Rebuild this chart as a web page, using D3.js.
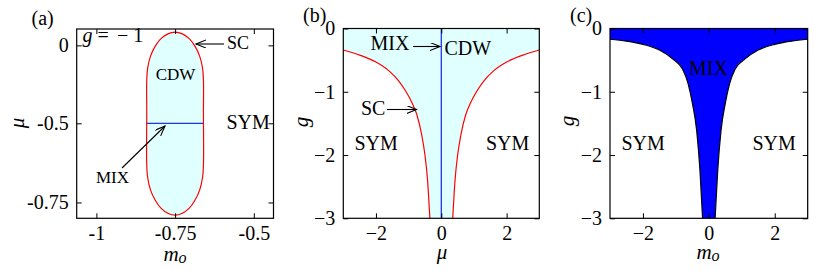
<!DOCTYPE html>
<html>
<head>
<meta charset="utf-8">
<script src="https://cdn.jsdelivr.net/npm/d3@7"></script>
<style>
  body { margin: 0; background: #fff; }
  svg text { font-family: "Liberation Serif", "Times New Roman", serif; fill: #000; }
</style>
</head>
<body>
<div id="container"></div>
<script>
/* DATA */
// (a) g = -1 : SC boundary loop in the (m_o, mu) plane
const scLoopM = [-0.750, -0.727, -0.705, -0.687, -0.672, -0.663, -0.660, -0.660, -0.660,
  -0.663, -0.672, -0.687, -0.705, -0.727, -0.750, -0.773, -0.795, -0.813, -0.828, -0.837,
  -0.840, -0.840, -0.840, -0.837, -0.828, -0.813, -0.795, -0.773];
const scLoopMu = [0.085, 0.074, 0.043, -0.005, -0.069, -0.144, -0.224, -0.430, -0.632,
  -0.672, -0.711, -0.743, -0.768, -0.784, -0.790, -0.784, -0.768, -0.743, -0.711, -0.672,
  -0.632, -0.430, -0.224, -0.144, -0.069, -0.005, 0.043, 0.074];
const mixSegM = [-0.840, -0.660];
const mixSegMu = [-0.5, -0.5];
const aTicksX = [-1, -0.75, -0.5];
const aTicksY = [0, -0.5, -0.75];

// (b) SC boundary g(mu)
const scLeftMu = [-3, -2.5, -2, -1.6, -1.3, -1.1, -0.9, -0.75, -0.6, -0.5, -0.42, -0.35];
const scLeftG = [-0.34, -0.42, -0.53, -0.67, -0.83, -0.98, -1.17, -1.36, -1.68, -2.0, -2.4, -3.0];
const scRightMu = [0.35, 0.42, 0.5, 0.6, 0.75, 0.9, 1.1, 1.3, 1.6, 2, 2.5, 3];
const scRightG = [-3.0, -2.4, -2.0, -1.68, -1.36, -1.17, -0.98, -0.83, -0.67, -0.53, -0.42, -0.34];
const cdwLineMu = [0, 0];
const cdwLineG = [0, -3];

// (c) MIX boundary g(m_o)
const mixLeftM = [-3, -2.5, -2, -1.5, -1.1, -0.8, -0.63, -0.5, -0.37, -0.27, -0.19];
const mixLeftG = [-0.17, -0.2, -0.25, -0.34, -0.48, -0.64, -0.87, -1.18, -1.61, -2.24, -3.0];
const mixRightM = [0.19, 0.27, 0.37, 0.5, 0.63, 0.8, 1.1, 1.5, 2, 2.5, 3];
const mixRightG = [-3.0, -2.24, -1.61, -1.18, -0.87, -0.64, -0.48, -0.34, -0.25, -0.2, -0.17];

const gTicks = [0, -1, -2, -3];
const bcTicksX = [-2, 0, 2];

/* CONSTANTS */
const width = 814, height = 271;
const top0 = 28.5, bottom0 = 218.3;
const serif = '"Liberation Serif", "Times New Roman", serif';
const cyan = "#e0ffff", red = "#ff0000", blue = "#0000ff", lineBlue = "#2233ee";

const svg = d3.select("#container").append("svg")
  .attr("width", width)
  .attr("height", height);

const defs = svg.append("defs");
defs.append("marker")
  .attr("id", "arrow")
  .attr("markerUnits", "userSpaceOnUse")
  .attr("markerWidth", 12).attr("markerHeight", 10)
  .attr("refX", 10).attr("refY", 4)
  .attr("orient", "auto")
  .append("path")
  .attr("d", "M0,0 L10,4 L0,8")
  .attr("fill", "none")
  .attr("stroke", "#000")
  .attr("stroke-width", 1.1);

const zip = (xs, ys) => xs.map((d, i) => [d, ys[i]]);

// frame + inward ticks on all four sides
function drawAxes(g, x, y, xt, yt, fmt) {
  const [x0, x1] = d3.extent(x.range()), [y0, y1] = d3.extent(y.range());
  const axes = [
    [d3.axisBottom(x).tickValues(xt).tickFormat(fmt), `translate(0,${y1})`],
    [d3.axisTop(x).tickValues(xt).tickFormat(""), `translate(0,${y0})`],
    [d3.axisLeft(y).tickValues(yt).tickFormat(fmt), `translate(${x0},0)`],
    [d3.axisRight(y).tickValues(yt).tickFormat(""), `translate(${x1},0)`]
  ];
  axes.forEach(([ax, tr]) => {
    const a = g.append("g").attr("transform", tr)
      .call(ax.tickSize(-5).tickSizeOuter(0).tickPadding(8))
      .attr("font-size", 20)
      .attr("font-family", serif);
    a.select(".domain").remove();
    a.selectAll(".tick line").attr("stroke", "#000").attr("stroke-width", 1);
    a.selectAll(".tick text").attr("font-family", serif).attr("fill", "#000");
  });
  g.append("rect")
    .attr("x", x0).attr("y", y0)
    .attr("width", x1 - x0).attr("height", y1 - y0)
    .attr("fill", "none").attr("stroke", "#000").attr("stroke-width", 1.2);
}

function clipFor(id, x, y) {
  const [x0, x1] = d3.extent(x.range()), [y0, y1] = d3.extent(y.range());
  defs.append("clipPath").attr("id", id)
    .append("rect").attr("x", x0).attr("y", y0).attr("width", x1 - x0).attr("height", y1 - y0);
  return `url(#${id})`;
}

// shaded phase above two branches: coloured plot area, white below each branch
function phaseAbove(g, x, y, clip, branches, fill, stroke) {
  const [x0, x1] = d3.extent(x.range()), [y0, y1] = d3.extent(y.range());
  g.append("rect").attr("x", x0).attr("y", y0)
    .attr("width", x1 - x0).attr("height", y1 - y0).attr("fill", fill);
  const below = d3.area().x(d => x(d[0])).y0(y1 + 2).y1(d => y(d[1])).curve(d3.curveMonotoneX);
  const line = d3.line().x(d => x(d[0])).y(d => y(d[1])).curve(d3.curveMonotoneX);
  branches.forEach(pts => {
    g.append("path").attr("clip-path", clip).attr("d", below(pts)).attr("fill", "#fff");
  });
  branches.forEach(pts => {
    g.append("path").attr("clip-path", clip).attr("d", line(pts))
      .attr("fill", "none").attr("stroke", stroke).attr("stroke-width", 1.2);
  });
}

function label(g, txt, x, y, size, opts = {}) {
  return g.append("text")
    .attr("x", x).attr("y", y)
    .attr("font-size", size)
    .attr("text-anchor", opts.anchor || "start")
    .attr("fill", opts.fill || "#000")
    .text(txt);
}

function arrow(g, x1, y1, x2, y2) {
  g.append("line")
    .attr("x1", x1).attr("y1", y1).attr("x2", x2).attr("y2", y2)
    .attr("stroke", "#000").attr("stroke-width", 1.1)
    .attr("marker-end", "url(#arrow)");
}

const plain = d => String(d);
const minus = d3.format("d");

/* PANEL (a) */
{
  const g = svg.append("g");
  const x = d3.scaleLinear().domain([-1.0625, -0.4375]).range([76.7, 273.5]);
  const y = d3.scaleLinear().domain([0.105, -0.5, -0.8]).range([top0 + 0.5, 123.3, bottom0]);
  const clip = clipFor("clipA", x, y);

  const loop = d3.line().x(d => x(d[0])).y(d => y(d[1])).curve(d3.curveCatmullRomClosed);
  g.append("path")
    .attr("clip-path", clip)
    .attr("d", loop(zip(scLoopM, scLoopMu)))
    .attr("fill", cyan).attr("stroke", red).attr("stroke-width", 1.2);
  g.append("path")
    .attr("d", d3.line().x(d => x(d[0])).y(d => y(d[1]))(zip(mixSegM, mixSegMu)))
    .attr("stroke", lineBlue).attr("stroke-width", 1.3);

  drawAxes(g, x, y, aTicksX, aTicksY, plain);

  label(g, "(a)", 31.5, 24.5, 20);
  const gl = g.append("text").attr("x", 82.5).attr("y", 42).attr("font-size", 20);
  gl.append("tspan").attr("font-style", "italic").text("g");
  gl.append("tspan").attr("x", 97.5).text("=");
  gl.append("tspan").attr("x", 117).text("− 1");
  label(g, "CDW", 175.5, 80, 17, { anchor: "middle" });
  label(g, "SYM", 226.5, 128.5, 20);
  label(g, "SC", 227, 49, 18);
  arrow(g, 224, 44, 196, 44);
  label(g, "MIX", 96, 183, 17);
  arrow(g, 122, 168, 165, 126);

  g.append("text").attr("transform", "translate(24,123) rotate(-90)")
    .attr("text-anchor", "middle").attr("font-size", 21).attr("font-style", "italic").text("μ");
  const xl = g.append("text").attr("x", 175).attr("y", 261)
    .attr("text-anchor", "middle").attr("font-size", 21).attr("font-style", "italic");
  xl.append("tspan").text("m");
  xl.append("tspan").attr("font-size", 16).attr("dy", 2).text("o");
}

/* PANEL (b) */
{
  const g = svg.append("g");
  const x = d3.scaleLinear().domain([-3, 3]).range([343.3, 539.3]);
  const y = d3.scaleLinear().domain([-3, 0]).range([bottom0, top0]);
  const clip = clipFor("clipB", x, y);

  phaseAbove(g, x, y, clip, [zip(scLeftMu, scLeftG), zip(scRightMu, scRightG)], cyan, red);
  g.append("path")
    .attr("d", d3.line().x(d => x(d[0])).y(d => y(d[1]))(zip(cdwLineMu, cdwLineG)))
    .attr("stroke", lineBlue).attr("stroke-width", 1.3);

  drawAxes(g, x, y, bcTicksX, gTicks, minus);

  label(g, "(b)", 303, 21.5, 20);
  label(g, "MIX", 370.5, 50, 20);
  arrow(g, 413, 46.5, 440, 46.5);
  label(g, "CDW", 444.5, 55, 20);
  label(g, "SC", 361, 114.5, 20);
  arrow(g, 387, 109.5, 416.5, 109.5);
  label(g, "SYM", 354.5, 150, 20);
  label(g, "SYM", 486, 150, 20);

  g.append("text").attr("transform", "translate(307.5,122) rotate(-90)")
    .attr("text-anchor", "middle").attr("font-size", 21).attr("font-style", "italic").text("g");
  g.append("text").attr("x", 442).attr("y", 259)
    .attr("text-anchor", "middle").attr("font-size", 21).attr("font-style", "italic").text("μ");
}

/* PANEL (c) */
{
  const g = svg.append("g");
  const x = d3.scaleLinear().domain([-3, 3]).range([610, 807.7]);
  const y = d3.scaleLinear().domain([-3, 0]).range([bottom0, top0]);
  const clip = clipFor("clipC", x, y);

  phaseAbove(g, x, y, clip, [zip(mixLeftM, mixLeftG), zip(mixRightM, mixRightG)], blue, "#000");

  drawAxes(g, x, y, bcTicksX, gTicks, minus);

  label(g, "(c)", 570, 21.5, 20);
  label(g, "MIX", 689, 75, 20, { fill: "#fff" });
  label(g, "SYM", 621.5, 150, 20);
  label(g, "SYM", 752.5, 150, 20);

  g.append("text").attr("transform", "translate(574,121) rotate(-90)")
    .attr("text-anchor", "middle").attr("font-size", 21).attr("font-style", "italic").text("g");
  const xl = g.append("text").attr("x", 708).attr("y", 259)
    .attr("text-anchor", "middle").attr("font-size", 21).attr("font-style", "italic");
  xl.append("tspan").text("m");
  xl.append("tspan").attr("font-size", 16).attr("dy", 2).text("o");
}
</script>
</body>
</html>
